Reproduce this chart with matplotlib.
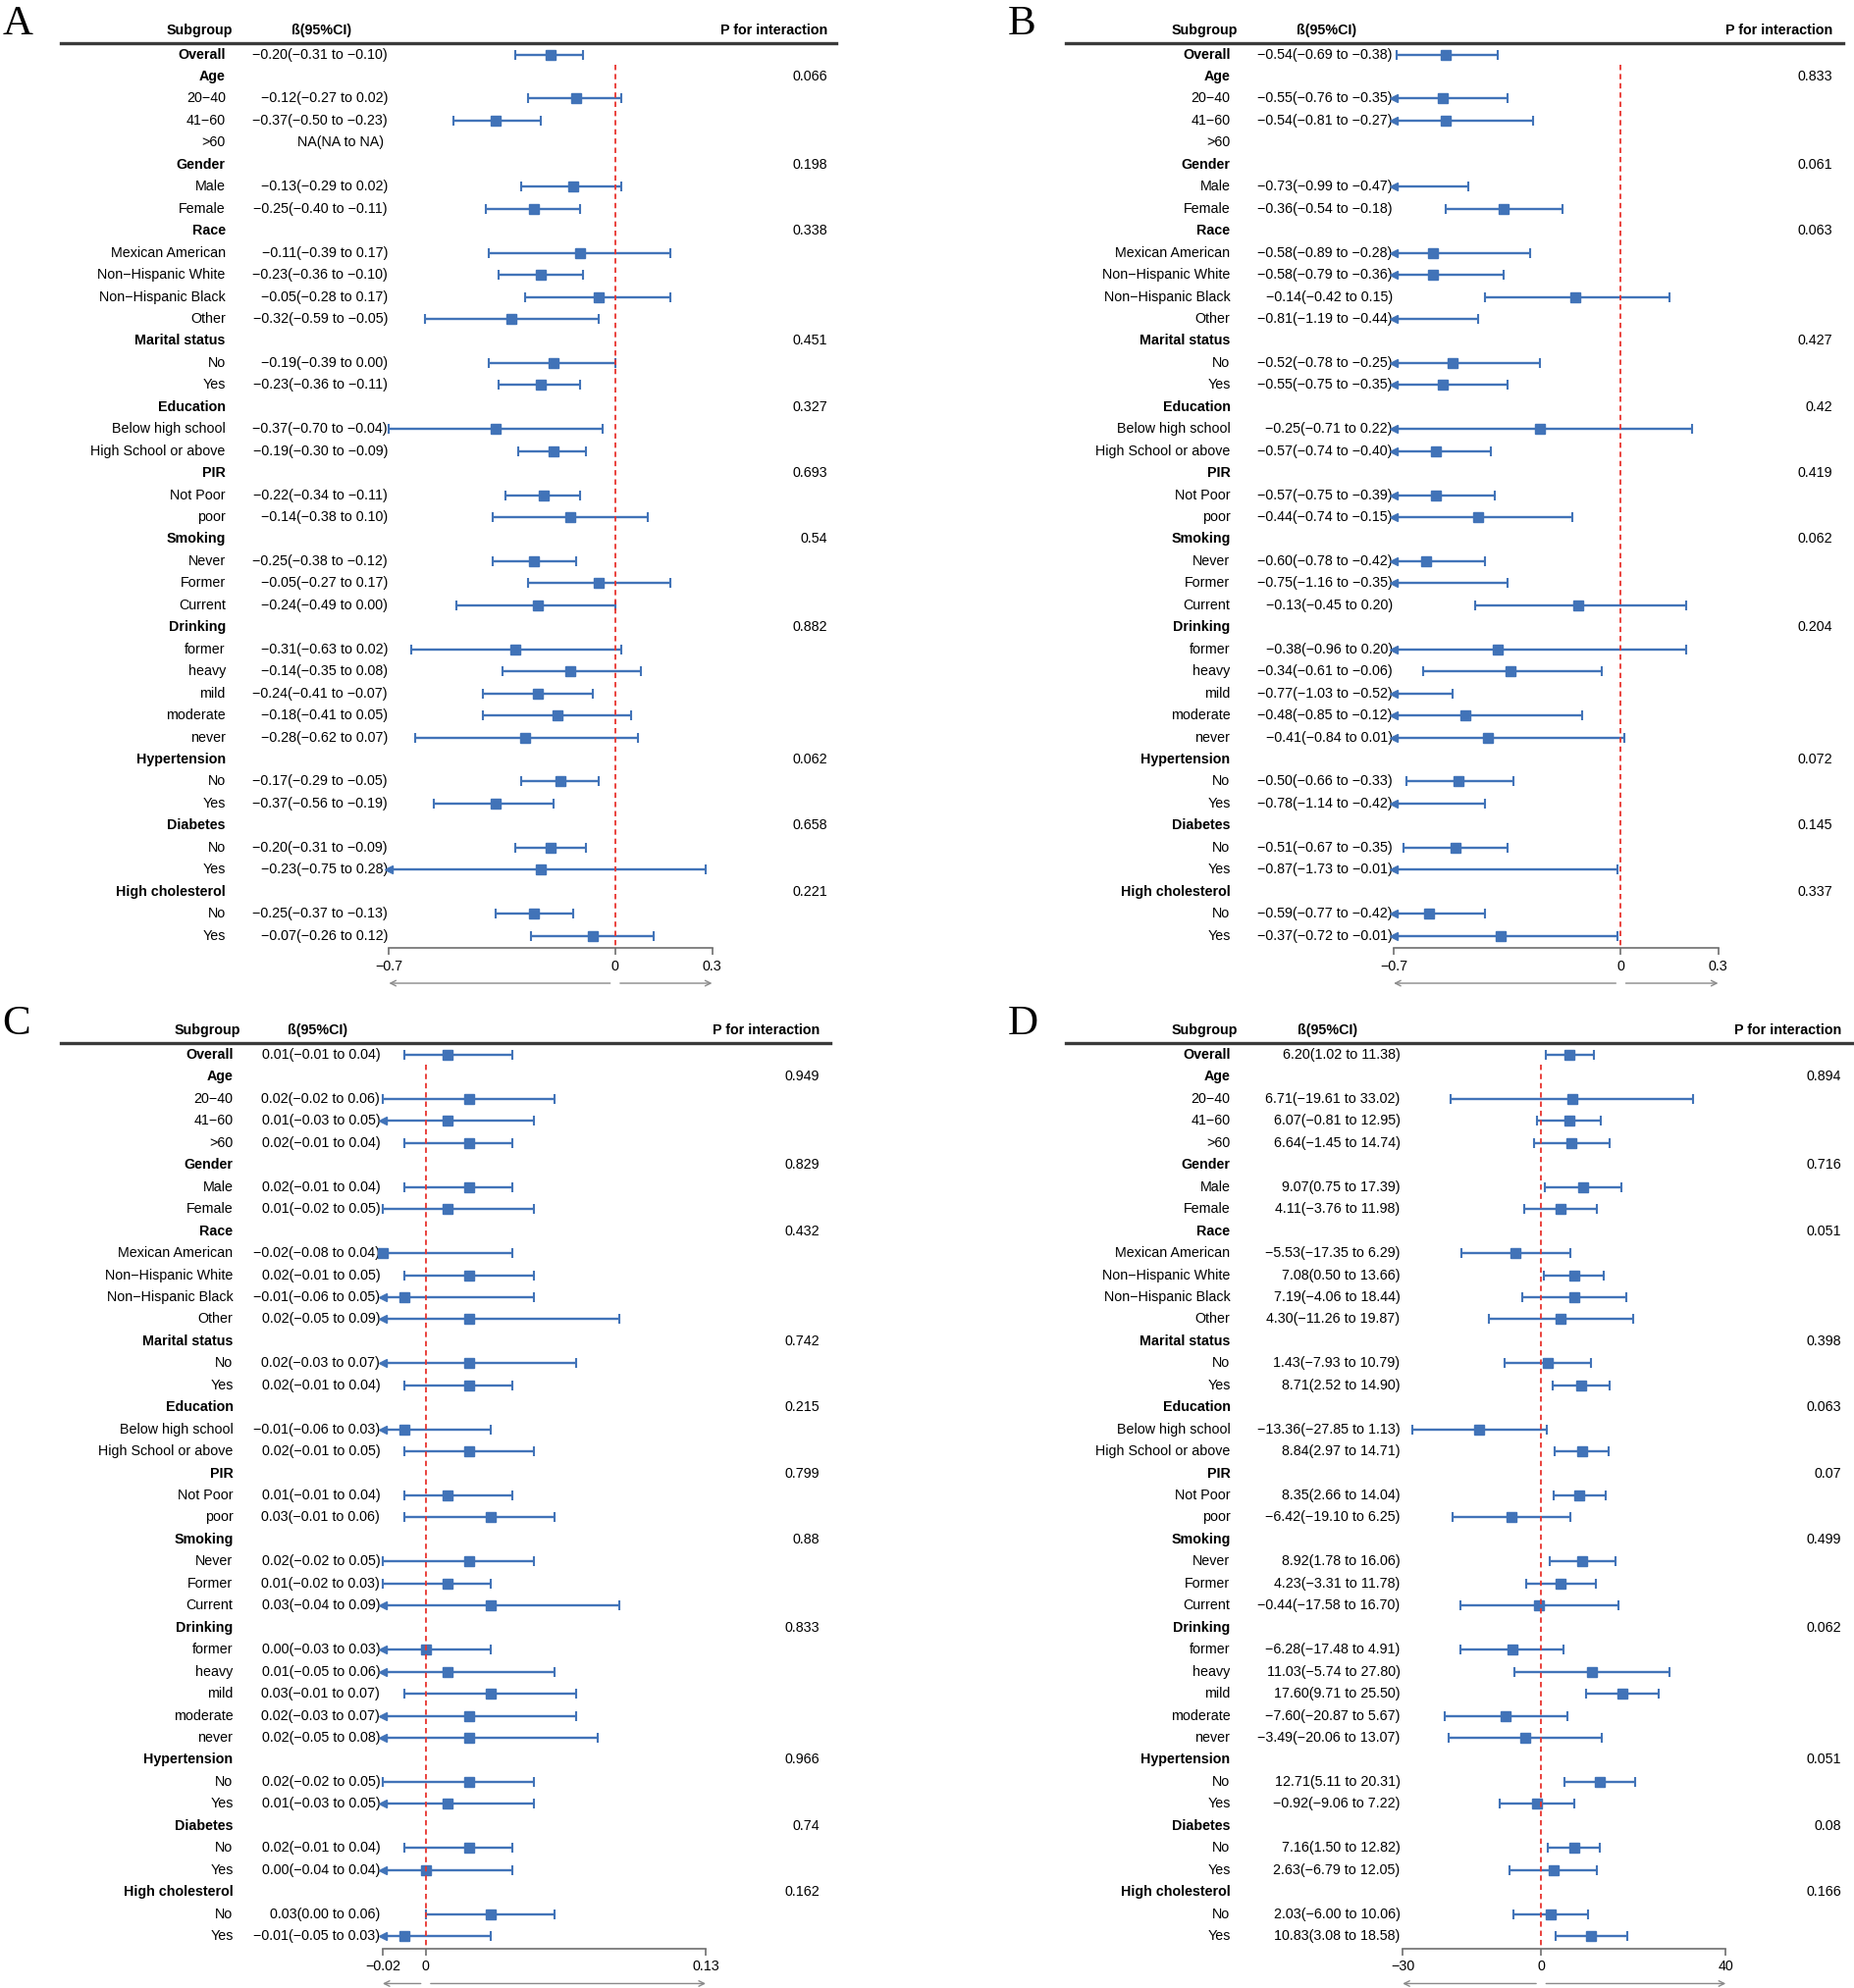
import numpy as np
import matplotlib
matplotlib.use("Agg")
import matplotlib.pyplot as plt
from matplotlib.lines import Line2D
from matplotlib.transforms import blended_transform_factory

plt.rcParams['font.family'] = ['Liberation Sans', 'DejaVu Sans']

M = "\u2212"

# subgroup structure
groups = [
    ("Age", ["20" + M + "40", "41" + M + "60", ">60"]),
    ("Gender", ["Male", "Female"]),
    ("Race", ["Mexican American", "Non" + M + "Hispanic White", "Non" + M + "Hispanic Black", "Other"]),
    ("Marital status", ["No", "Yes"]),
    ("Education", ["Below high school", "High School or above"]),
    ("PIR", ["Not Poor", "poor"]),
    ("Smoking", ["Never", "Former", "Current"]),
    ("Drinking", ["former", "heavy", "mild", "moderate", "never"]),
    ("Hypertension", ["No", "Yes"]),
    ("Diabetes", ["No", "Yes"]),
    ("High cholesterol", ["No", "Yes"]),
]

nan = np.nan
# values in order: Overall, then every subgroup row
est_A = [-0.20, -0.12, -0.37, nan, -0.13, -0.25, -0.11, -0.23, -0.05, -0.32, -0.19, -0.23,
         -0.37, -0.19, -0.22, -0.14, -0.25, -0.05, -0.24, -0.31, -0.14, -0.24, -0.18, -0.28,
         -0.17, -0.37, -0.20, -0.23, -0.25, -0.07]
lo_A = [-0.31, -0.27, -0.50, nan, -0.29, -0.40, -0.39, -0.36, -0.28, -0.59, -0.39, -0.36,
        -0.70, -0.30, -0.34, -0.38, -0.38, -0.27, -0.49, -0.63, -0.35, -0.41, -0.41, -0.62,
        -0.29, -0.56, -0.31, -0.75, -0.37, -0.26]
hi_A = [-0.10, 0.02, -0.23, nan, 0.02, -0.11, 0.17, -0.10, 0.17, -0.05, 0.00, -0.11,
        -0.04, -0.09, -0.11, 0.10, -0.12, 0.17, 0.00, 0.02, 0.08, -0.07, 0.05, 0.07,
        -0.05, -0.19, -0.09, 0.28, -0.13, 0.12]
p_A = ["0.066", "0.198", "0.338", "0.451", "0.327", "0.693", "0.54", "0.882", "0.062", "0.658", "0.221"]

est_B = [-0.54, -0.55, -0.54, nan, -0.73, -0.36, -0.58, -0.58, -0.14, -0.81, -0.52, -0.55,
         -0.25, -0.57, -0.57, -0.44, -0.60, -0.75, -0.13, -0.38, -0.34, -0.77, -0.48, -0.41,
         -0.50, -0.78, -0.51, -0.87, -0.59, -0.37]
lo_B = [-0.69, -0.76, -0.81, nan, -0.99, -0.54, -0.89, -0.79, -0.42, -1.19, -0.78, -0.75,
        -0.71, -0.74, -0.75, -0.74, -0.78, -1.16, -0.45, -0.96, -0.61, -1.03, -0.85, -0.84,
        -0.66, -1.14, -0.67, -1.73, -0.77, -0.72]
hi_B = [-0.38, -0.35, -0.27, nan, -0.47, -0.18, -0.28, -0.36, 0.15, -0.44, -0.25, -0.35,
        0.22, -0.40, -0.39, -0.15, -0.42, -0.35, 0.20, 0.20, -0.06, -0.52, -0.12, 0.01,
        -0.33, -0.42, -0.35, -0.01, -0.42, -0.01]
p_B = ["0.833", "0.061", "0.063", "0.427", "0.42", "0.419", "0.062", "0.204", "0.072", "0.145", "0.337"]

est_C = [0.01, 0.02, 0.01, 0.02, 0.02, 0.01, -0.02, 0.02, -0.01, 0.02, 0.02, 0.02,
         -0.01, 0.02, 0.01, 0.03, 0.02, 0.01, 0.03, 0.00, 0.01, 0.03, 0.02, 0.02,
         0.02, 0.01, 0.02, 0.00, 0.03, -0.01]
lo_C = [-0.01, -0.02, -0.03, -0.01, -0.01, -0.02, -0.08, -0.01, -0.06, -0.05, -0.03, -0.01,
        -0.06, -0.01, -0.01, -0.01, -0.02, -0.02, -0.04, -0.03, -0.05, -0.01, -0.03, -0.05,
        -0.02, -0.03, -0.01, -0.04, 0.00, -0.05]
hi_C = [0.04, 0.06, 0.05, 0.04, 0.04, 0.05, 0.04, 0.05, 0.05, 0.09, 0.07, 0.04,
        0.03, 0.05, 0.04, 0.06, 0.05, 0.03, 0.09, 0.03, 0.06, 0.07, 0.07, 0.08,
        0.05, 0.05, 0.04, 0.04, 0.06, 0.03]
p_C = ["0.949", "0.829", "0.432", "0.742", "0.215", "0.799", "0.88", "0.833", "0.966", "0.74", "0.162"]

est_D = [6.20, 6.71, 6.07, 6.64, 9.07, 4.11, -5.53, 7.08, 7.19, 4.30, 1.43, 8.71,
         -13.36, 8.84, 8.35, -6.42, 8.92, 4.23, -0.44, -6.28, 11.03, 17.60, -7.60, -3.49,
         12.71, -0.92, 7.16, 2.63, 2.03, 10.83]
lo_D = [1.02, -19.61, -0.81, -1.45, 0.75, -3.76, -17.35, 0.50, -4.06, -11.26, -7.93, 2.52,
        -27.85, 2.97, 2.66, -19.10, 1.78, -3.31, -17.58, -17.48, -5.74, 9.71, -20.87, -20.06,
        5.11, -9.06, 1.50, -6.79, -6.00, 3.08]
hi_D = [11.38, 33.02, 12.95, 14.74, 17.39, 11.98, 6.29, 13.66, 18.44, 19.87, 10.79, 14.90,
        1.13, 14.71, 14.04, 6.25, 16.06, 11.78, 16.70, 4.91, 27.80, 25.50, 5.67, 13.07,
        20.31, 7.22, 12.82, 12.05, 10.06, 18.58]
p_D = ["0.894", "0.716", "0.051", "0.398", "0.063", "0.07", "0.499", "0.062", "0.051", "0.08", "0.166"]

ticks_A = [-0.7, 0, 0.3]
ticks_C = [-0.02, 0, 0.13]
ticks_D = [-30, 0, 40]
tick_labels_A = [M + "0.7", "0", "0.3"]
tick_labels_C = [M + "0.02", "0", "0.13"]
tick_labels_D = [M + "30", "0", "40"]

# layout in reference-view pixels (1464 x 1568)
W0, H0 = 1464.0, 1568.0
SP = 17.375
panels = [
    dict(letter="A", est=est_A, lo=lo_A, hi=hi_A, p=p_A, ticks=ticks_A, tl=tick_labels_A,
         na="NA(NA to NA)", dx=0, dy=0, sub=178, ci=306, cih=254, pr=653, line=(48, 660), fx=(307, 562)),
    dict(letter="B", est=est_B, lo=lo_B, hi=hi_B, p=p_B, ticks=ticks_A, tl=tick_labels_A,
         na="", dx=793, dy=0, sub=971, ci=1099, cih=1047, pr=1446, line=(841, 1455), fx=(1100, 1356)),
    dict(letter="C", est=est_C, lo=lo_C, hi=hi_C, p=p_C, ticks=ticks_C, tl=tick_labels_C,
         na="", dx=0, dy=789, sub=184, ci=300, cih=251, pr=647, line=(48, 655), fx=(302, 557)),
    dict(letter="D", est=est_D, lo=lo_D, hi=hi_D, p=p_D, ticks=ticks_D, tl=tick_labels_D,
         na="", dx=793, dy=789, sub=971, ci=1105, cih=1048, pr=1453, line=(841, 1462), fx=(1107, 1362)),
]

BLUE = "#4173B8"
RED = "#E8342E"
GRAY = "#6E6E6E"
FS = 10.3

fig = plt.figure(figsize=(18.9, 20.26), dpi=100)


def fmt(v):
    return f"{v:.2f}".replace("-", M)


for pn in panels:
    dy = pn["dy"]
    row0 = 43 + dy
    axis_y = 748 + dy
    axis_row = (axis_y - row0) / SP
    top = row0 - 0.5 * SP
    x0, x1 = pn["fx"]
    ax = fig.add_axes([x0 / W0, 1 - axis_y / H0, (x1 - x0) / W0, (axis_y - top) / H0])
    xmin, xmax = pn["ticks"][0], pn["ticks"][-1]
    ax.set_xlim(xmin, xmax)
    ax.set_ylim(axis_row, -0.5)
    ax.patch.set_visible(False)
    for s in ["left", "right", "top"]:
        ax.spines[s].set_visible(False)
    ax.spines["bottom"].set_color(GRAY)
    ax.spines["bottom"].set_linewidth(1.2)
    ax.set_yticks([])
    ax.set_xticks(pn["ticks"])
    ax.set_xticklabels(pn["tl"], fontsize=FS)
    ax.tick_params(axis="x", direction="out", length=5, width=1.2, color=GRAY, pad=3)

    tr = blended_transform_factory(fig.transFigure, ax.transData)

    # header
    hrow = (24 + dy - row0) / SP
    ax.text((pn["sub"] + 6) / W0, hrow, "Subgroup", transform=tr, ha="right", va="center",
            fontsize=FS, fontweight="bold")
    ax.text(pn["cih"] / W0, hrow, "\u00df(95%CI)", transform=tr, ha="center", va="center",
            fontsize=FS, fontweight="bold")
    ax.text(pn["pr"] / W0, hrow, "P for interaction", transform=tr, ha="right", va="center",
            fontsize=FS, fontweight="bold")
    ly = 1 - (34 + dy) / H0
    fig.add_artist(Line2D([pn["line"][0] / W0, pn["line"][1] / W0], [ly, ly],
                          color="#3A3A3A", lw=2.4))
    fig.text((2 + pn["dx"]) / W0, 1 - (4 + dy) / H0, pn["letter"], family="Liberation Serif",
             fontsize=31, ha="left", va="top")

    # build rows
    rows = [("Overall", True, 0, None)]
    k = 1
    for gi, (g, items) in enumerate(groups):
        rows.append((g, True, None, pn["p"][gi]))
        for it in items:
            rows.append((it, False, k, None))
            k += 1

    for r, (lab, bold, vi, pv) in enumerate(rows):
        ax.text(pn["sub"] / W0, r, lab, transform=tr, ha="right", va="center", fontsize=FS,
                fontweight="bold" if bold else "normal")
        if pv is not None:
            ax.text(pn["pr"] / W0, r, pv, transform=tr, ha="right", va="center", fontsize=FS)
        if vi is None:
            continue
        e, l, h = pn["est"][vi], pn["lo"][vi], pn["hi"][vi]
        if np.isnan(e):
            if pn["na"]:
                ax.text((pn["ci"] - 3) / W0, r, pn["na"], transform=tr, ha="right", va="center", fontsize=FS)
            continue
        ax.text(pn["ci"] / W0, r, f"{fmt(e)}({fmt(l)} to {fmt(h)})", transform=tr,
                ha="right", va="center", fontsize=FS)
        ll, hh = max(l, xmin), min(h, xmax)
        ax.plot([ll, hh], [r, r], color=BLUE, lw=1.7, clip_on=False, zorder=3, solid_capstyle="butt")
        if l < xmin:
            ax.plot([ll], [r], marker="<", ms=6, color=BLUE, clip_on=False, zorder=3)
        else:
            ax.plot([ll], [r], marker="|", ms=7, mew=1.5, color=BLUE, clip_on=False, zorder=3)
        if h > xmax:
            ax.plot([hh], [r], marker=">", ms=6, color=BLUE, clip_on=False, zorder=3)
        else:
            ax.plot([hh], [r], marker="|", ms=7, mew=1.5, color=BLUE, clip_on=False, zorder=3)
        if xmin <= e <= xmax:
            ax.plot([e], [r], marker="s", ms=6.5, color=BLUE, clip_on=False, zorder=4)

    # reference line
    ax.vlines(0, 0.45, axis_row, colors=RED, linestyles=(0, (3, 2.2)), lw=1.3, zorder=5)

    # direction arrows under the axis
    gap = 3.9 / (x1 - x0) * (xmax - xmin)
    arow = axis_row + 27.5 / SP
    for a, b in [(-gap, xmin), (gap, xmax)]:
        ax.annotate("", xy=(b, arow), xytext=(a, arow), annotation_clip=False,
                    arrowprops=dict(arrowstyle="->", color="#8A8A8A", lw=1.0,
                                    shrinkA=0, shrinkB=0, mutation_scale=10))

fig.savefig("out.png", dpi=100)
